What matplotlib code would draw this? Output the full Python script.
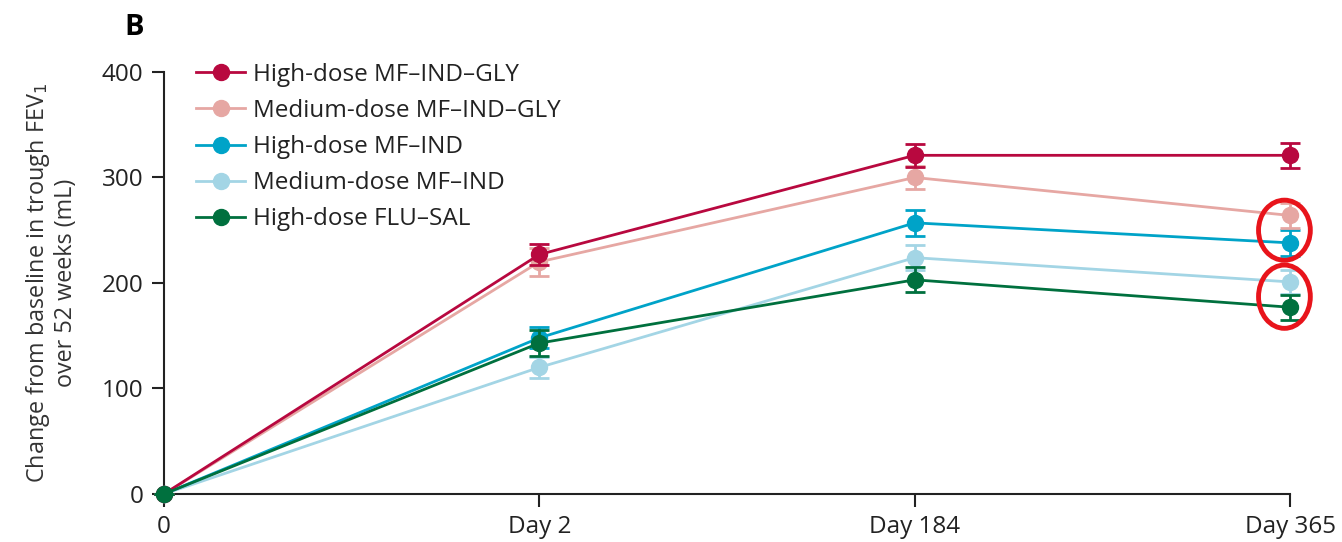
import matplotlib.pyplot as plt
from matplotlib.lines import Line2D
from matplotlib.patches import Ellipse

plt.rcParams['font.family'] = ['Open Sans', 'DejaVu Sans']

# Data
days = ['0', 'Day 2', 'Day 184', 'Day 365']
labels = ['High-dose MF–IND–GLY', 'Medium-dose MF–IND–GLY', 'High-dose MF–IND',
          'Medium-dose MF–IND', 'High-dose FLU–SAL']
colors = ['#B8083F', '#E6A7A3', '#00A3C8', '#A3D5E5', '#00703E']

hi_mig = [0, 227, 321, 321]
med_mig = [0, 220, 300, 264]
hi_mi = [0, 148, 257, 238]
med_mi = [0, 120, 224, 201]
hi_fs = [0, 143, 203, 177]

hi_mig_err = [0, 10, 11, 12]
med_mig_err = [0, 13, 11, 12]
hi_mi_err = [0, 10, 12, 12]
med_mi_err = [0, 10, 12, 11]
hi_fs_err = [0, 12, 12, 12]

series = [hi_mig, med_mig, hi_mi, med_mi, hi_fs]
errs = [hi_mig_err, med_mig_err, hi_mi_err, med_mi_err, hi_fs_err]
zorders = [5, 4, 3, 2, 6]

fig = plt.figure(figsize=(13.42, 5.42), dpi=100)
ax = fig.add_axes([0.1222, 0.0886, 0.8391, 0.7786])

x = list(range(len(days)))
handles = []
for vals, err, c, lab, z in zip(series, errs, colors, labels, zorders):
    ax.errorbar(x, vals, yerr=err, color=c, lw=2, marker='o', ms=11.5,
                capsize=7, capthick=2, elinewidth=2,
                clip_on=False, zorder=z)
    handles.append(Line2D([], [], color=c, lw=2, marker='o', ms=11.5,
                          label=lab))

# red highlight rings at Day 365
for yc, h in [(250, 57), (187, 60)]:
    ax.add_patch(Ellipse((2.985, yc), 0.138, h, fill=False, ec='#E8141B',
                         lw=3.5, clip_on=False, zorder=10))

ax.set_xlim(0, 3)
ax.set_ylim(0, 400)
ax.set_xticks(x)
ax.set_xticklabels(days)
ax.set_yticks([0, 100, 200, 300, 400])
ax.tick_params(labelsize=17.5, length=9, width=1.5, pad=6, colors='#222222')
for s in ['top', 'right']:
    ax.spines[s].set_visible(False)
for s in ['left', 'bottom']:
    ax.spines[s].set_linewidth(1.5)
    ax.spines[s].set_color('#222222')

ax.set_ylabel('Change from baseline in trough FEV$_1$\nover 52 weeks (mL)',
              fontsize=16.8, color='#333333', labelpad=17, linespacing=1.1)

leg = ax.legend(handles=handles, loc='upper left',
                bbox_to_anchor=(0.02, 1.045), frameon=False,
                fontsize=17.5, handlelength=2.0, labelspacing=0.5,
                handletextpad=0.35, borderaxespad=0)
for t in leg.get_texts():
    t.set_color('#222222')

fig.text(0.093, 0.95, 'B', fontsize=21, fontweight='bold', va='center',
         ha='left')

fig.savefig('out.png', dpi=100)
